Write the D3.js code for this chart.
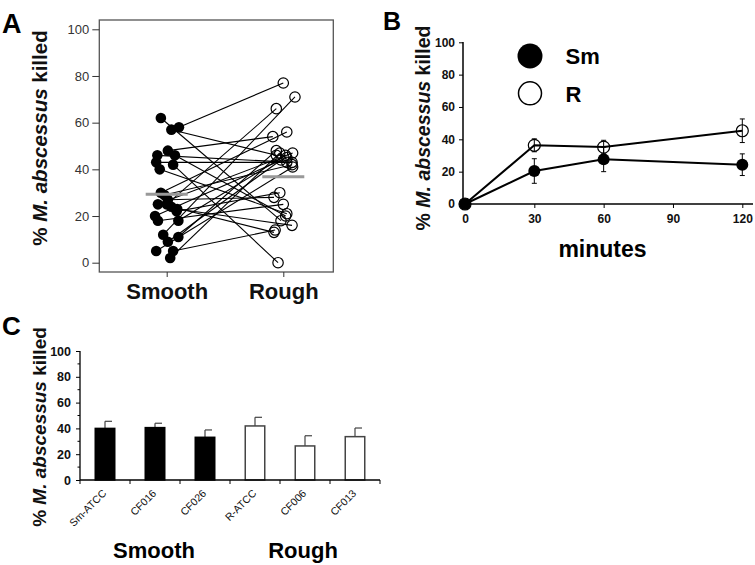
<!DOCTYPE html>
<html><head><meta charset="utf-8">
<script src="https://cdn.jsdelivr.net/npm/d3@7"></script>
<style>
body{margin:0;background:#fff;}
svg{font-family:"Liberation Sans",Arial,sans-serif;}
</style></head>
<body><svg id="c" width="755" height="565"></svg>
<script>
// ---------- Panel A data ----------
const groupsA = ["Smooth","Rough"];
const smoothVals = [62,58,57,48,46,46,43,42,40,30,27,25,25,23,20,18,18,12,11,9,5,5,2,24,22,29];
const roughVals  = [18,77,46,54,43,20,43,0,21,56,28,47,66,16,45,25,46,71,48,44,41,14,47,13,30,42];
const smoothJitter = [-0.05,0.105,0.04,0.01,-0.08,0.07,-0.09,0.055,-0.06,-0.05,0.01,-0.075,0,0.09,-0.1,-0.075,0.1,-0.03,0.1,0.01,-0.09,0.055,0.03,0.04,0.085,-0.02];
const roughJitter  = [-0.02,0,-0.06,-0.09,0.075,0.02,0.03,-0.045,0.03,0.03,-0.08,0.08,-0.06,0.075,0.03,0,0.02,0.1,-0.06,-0.02,0.08,-0.07,-0.03,-0.08,-0.03,0.075];
const meansA = [29.3,36.8];
const ticksA = [0,20,40,60,80,100];

// ---------- Panel B data ----------
const minutes = [0,30,60,120];
const smMeans = [0,20.4,27.6,24.3];
const smErr   = [0,7.6,7.6,6.7];
const rMeans  = [0,36.3,35.2,45.3];
const rErr    = [0,4,4.2,7.3];
const ticksBx = [0,30,60,90,120];
const ticksBy = [0,20,40,60,80,100];
const legendB = ["Sm","R"];

// ---------- Panel C data ----------
const strains = ["Sm-ATCC","CF016","CF026","R-ATCC","CF006","CF013"];
const strainType = ["Smooth","Smooth","Smooth","Rough","Rough","Rough"];
const killC = [40.0,40.6,33.1,41.9,26.4,33.6];
const errC  = [5.5,3.4,5.7,6.7,7.9,6.7];
const ticksC = [0,20,40,60,80,100];
const minorC = [10,30,50,70,90];
const groupLabelsC = ["Smooth","Rough"];

const svg = d3.select("#c");

function yLabel(g, x, y, size){
  const t = g.append("text").attr("transform",`translate(${x},${y}) rotate(-90)`)
    .attr("text-anchor","middle").attr("font-weight","bold").attr("font-size",size).attr("fill","#111");
  t.append("tspan").text("% ");
  t.append("tspan").attr("font-style","italic").text("M. abscessus");
  t.append("tspan").text(" killed");
}

// ======== Panel A ========
{
  const g = svg.append("g");
  const y = d3.scaleLinear().domain([0,100]).range([262.7,29.3]);
  const x = d3.scalePoint().domain(groupsA).range([166.7,283.3]);
  const step = x(groupsA[1]) - x(groupsA[0]);
  g.append("rect").attr("x",99.3).attr("y",20).attr("width",234).attr("height",252)
    .attr("fill","none").attr("stroke","#555").attr("stroke-width",1.3);
  const ax = g.append("g").attr("transform","translate(99.3,0)")
    .call(d3.axisLeft(y).tickValues(ticksA).tickSize(7).tickPadding(3));
  ax.select(".domain").remove();
  ax.selectAll("line").attr("stroke","#333");
  ax.selectAll("text").attr("font-size",13).attr("fill","#333").attr("font-family","Liberation Sans, Arial");
  const bx = g.append("g").attr("transform","translate(0,272)")
    .call(d3.axisBottom(x).tickSize(5).tickPadding(6));
  bx.select(".domain").remove();
  bx.selectAll("line").attr("stroke","#333");
  bx.selectAll("text").attr("font-size",22).attr("font-weight","bold").attr("fill","#111")
    .attr("font-family","Liberation Sans, Arial");
  const pairs = smoothVals.map((v,i)=>({s:v,r:roughVals[i],sj:smoothJitter[i],rj:roughJitter[i]}));
  g.append("g").selectAll("line").data(pairs).join("line")
    .attr("x1",d=>x("Smooth")+d.sj*step).attr("y1",d=>y(d.s))
    .attr("x2",d=>x("Rough")+d.rj*step).attr("y2",d=>y(d.r))
    .attr("stroke","#000").attr("stroke-width",1.1);
  g.append("g").selectAll("circle").data(pairs).join("circle")
    .attr("cx",d=>x("Smooth")+d.sj*step).attr("cy",d=>y(d.s)).attr("r",5.3).attr("fill","#000");
  g.append("g").selectAll("circle").data(pairs).join("circle")
    .attr("cx",d=>x("Rough")+d.rj*step).attr("cy",d=>y(d.r)).attr("r",5.2)
    .attr("fill","none").attr("stroke","#000").attr("stroke-width",1.2);
  g.append("g").selectAll("line").data(meansA).join("line")
    .attr("x1",(d,i)=>x(groupsA[i])-21).attr("x2",(d,i)=>x(groupsA[i])+21)
    .attr("y1",d=>y(d)).attr("y2",d=>y(d)).attr("stroke","#999").attr("stroke-width",3);
  yLabel(g, 47, 138, 20.5);
  g.append("text").attr("x",2).attr("y",33).attr("font-size",27).attr("font-weight","bold").text("A");
}

// ======== Panel B ========
{
  const g = svg.append("g");
  const y = d3.scaleLinear().domain([0,100]).range([204,42.3]);
  const x = d3.scaleLinear().domain([0,120]).range([465,742.3]);
  g.append("line").attr("x1",463).attr("x2",463).attr("y1",42).attr("y2",204).attr("stroke","#000").attr("stroke-width",1.5);
  g.append("line").attr("x1",463).attr("x2",753).attr("y1",204).attr("y2",204).attr("stroke","#000").attr("stroke-width",1.5);
  const ay = g.append("g").attr("transform","translate(463,0)")
    .call(d3.axisLeft(y).tickValues(ticksBy).tickSize(4).tickPadding(4));
  ay.select(".domain").remove();
  ay.selectAll("text").attr("font-size",12).attr("font-weight","bold").attr("fill","#111").attr("font-family","Liberation Sans, Arial");
  const axb = g.append("g").attr("transform","translate(0,204)")
    .call(d3.axisBottom(x).tickValues(ticksBx).tickSize(4).tickPadding(6));
  axb.select(".domain").remove();
  axb.selectAll("text").attr("font-size",12).attr("font-weight","bold").attr("fill","#111").attr("font-family","Liberation Sans, Arial");
  const line = d3.line().x(d=>x(d[0])).y(d=>y(d[1]));
  const smPts = minutes.map((m,i)=>[m,smMeans[i],smErr[i]]);
  const rPts  = minutes.map((m,i)=>[m,rMeans[i],rErr[i]]);
  [smPts,rPts].forEach(pts=>{
    g.append("path").datum(pts).attr("d",line).attr("fill","none").attr("stroke","#000").attr("stroke-width",2);
  });
  [smPts,rPts].forEach(pts=>{
    const eb = g.append("g").selectAll("g").data(pts.filter(d=>d[2]>0)).join("g");
    eb.append("line").attr("x1",d=>x(d[0])).attr("x2",d=>x(d[0])).attr("y1",d=>y(d[1]-d[2])).attr("y2",d=>y(d[1]+d[2])).attr("stroke","#000").attr("stroke-width",1);
    eb.append("line").attr("x1",d=>x(d[0])-2.5).attr("x2",d=>x(d[0])+2.5).attr("y1",d=>y(d[1]+d[2])).attr("y2",d=>y(d[1]+d[2])).attr("stroke","#000");
    eb.append("line").attr("x1",d=>x(d[0])-2.5).attr("x2",d=>x(d[0])+2.5).attr("y1",d=>y(d[1]-d[2])).attr("y2",d=>y(d[1]-d[2])).attr("stroke","#000");
  });
  g.append("g").selectAll("circle").data(rPts).join("circle")
    .attr("cx",d=>x(d[0])).attr("cy",d=>y(d[1])).attr("r",6).attr("fill","none").attr("stroke","#000").attr("stroke-width",1.2);
  g.append("g").selectAll("circle").data(smPts).join("circle")
    .attr("cx",d=>x(d[0])).attr("cy",d=>y(d[1])).attr("r",6).attr("fill","#000");
  const lg = g.append("g");
  lg.append("circle").attr("cx",530).attr("cy",56).attr("r",12.5).attr("fill","#000");
  lg.append("circle").attr("cx",530).attr("cy",93.3).attr("r",11.5).attr("fill","none").attr("stroke","#000").attr("stroke-width",1.5);
  lg.selectAll("text").data(legendB).join("text").attr("x",565.5).attr("y",(d,i)=>64+i*38)
    .attr("font-size",22).attr("font-weight","bold").text(d=>d);
  g.append("text").attr("x",602.5).attr("y",257).attr("text-anchor","middle").attr("font-size",23).attr("font-weight","bold").text("minutes");
  yLabel(g, 430, 128, 19.5);
  g.append("text").attr("x",383).attr("y",30).attr("font-size",25).attr("font-weight","bold").text("B");
}

// ======== Panel C ========
{
  const g = svg.append("g");
  const y = d3.scaleLinear().domain([0,100]).range([480,351]);
  const x = d3.scaleBand().domain(strains).range([80,380]).paddingInner(0.61).paddingOuter(0.305);
  const data = strains.map((s,i)=>({s,v:killC[i],e:errC[i],t:strainType[i]}));
  const eb = g.append("g").selectAll("g").data(data).join("g");
  eb.append("line").attr("x1",d=>x(d.s)+x.bandwidth()/2).attr("x2",d=>x(d.s)+x.bandwidth()/2)
    .attr("y1",d=>y(d.v)).attr("y2",d=>y(d.v+d.e)).attr("stroke","#444").attr("stroke-width",1.2);
  eb.append("line").attr("x1",d=>x(d.s)+x.bandwidth()/2).attr("x2",d=>x(d.s)+x.bandwidth()/2+7)
    .attr("y1",d=>y(d.v+d.e)).attr("y2",d=>y(d.v+d.e)).attr("stroke","#444").attr("stroke-width",1.2);
  g.append("g").selectAll("rect").data(data).join("rect")
    .attr("x",d=>x(d.s)).attr("width",x.bandwidth()).attr("y",d=>y(d.v)).attr("height",d=>y(0)-y(d.v))
    .attr("fill",d=>d.t==="Smooth"?"#000":"#fff").attr("stroke",d=>d.t==="Smooth"?"#000":"#444").attr("stroke-width",1.5);
  g.append("line").attr("x1",80).attr("x2",80).attr("y1",351).attr("y2",480).attr("stroke","#000").attr("stroke-width",1.3);
  g.append("line").attr("x1",80).attr("x2",380).attr("y1",480).attr("y2",480).attr("stroke","#000").attr("stroke-width",1.3);
  const ay = g.append("g").attr("transform","translate(80,0)")
    .call(d3.axisLeft(y).tickValues(ticksC).tickSize(4).tickPadding(5));
  ay.select(".domain").remove();
  ay.selectAll("text").attr("font-size",12.5).attr("font-weight","bold").attr("fill","#111").attr("font-family","Liberation Sans, Arial");
  g.append("g").selectAll("line").data(minorC).join("line").attr("x1",77.5).attr("x2",80)
    .attr("y1",d=>y(d)).attr("y2",d=>y(d)).attr("stroke","#000");
  const bounds = d3.range(strains.length+1).map(i=>80+i*x.step());
  g.append("g").selectAll("line").data(bounds).join("line").attr("x1",d=>d).attr("x2",d=>d)
    .attr("y1",480).attr("y2",484).attr("stroke","#000");
  g.append("g").selectAll("text").data(strains).join("text")
    .attr("transform",d=>`translate(${x(d)+x.bandwidth()/2+2},494) rotate(-45)`)
    .attr("text-anchor","end").attr("font-size",10.5).attr("fill","#111").text(d=>d);
  g.append("g").selectAll("text").data(groupLabelsC).join("text")
    .attr("x",(d,i)=>i===0?154:303).attr("y",558).attr("text-anchor","middle")
    .attr("font-size",22).attr("font-weight","bold").text(d=>d);
  yLabel(g, 46, 427, 19);
  g.append("text").attr("x",2).attr("y",335).attr("font-size",26).attr("font-weight","bold").text("C");
}
</script></body></html>
